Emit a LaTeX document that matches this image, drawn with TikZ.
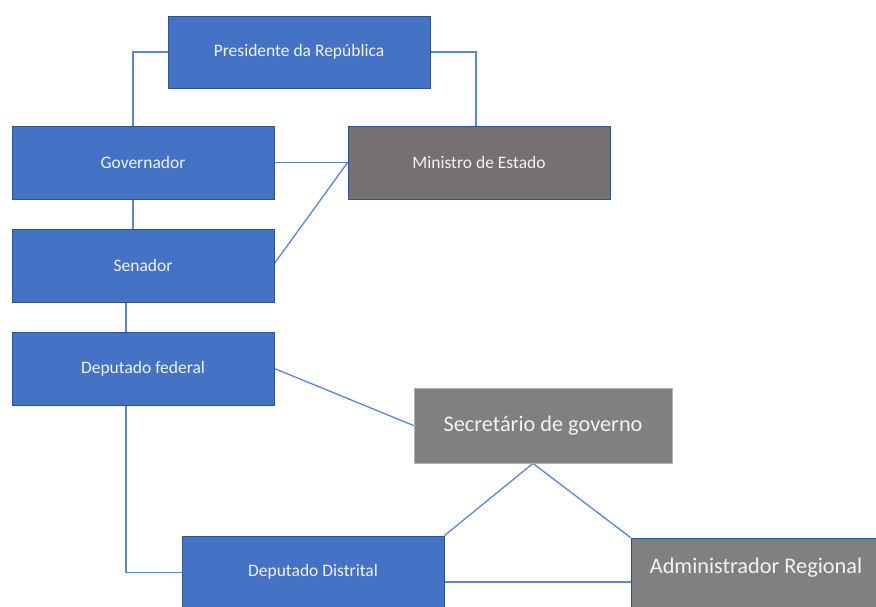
\documentclass[tikz,border=0pt]{standalone}
\usepackage{fontspec}
\setmainfont{Carlito}
\usetikzlibrary{backgrounds}
\definecolor{boxblue}{HTML}{4472C4}
\definecolor{boxblueedge}{HTML}{2F528F}
\definecolor{minfill}{HTML}{767171}
\definecolor{grayfill}{HTML}{808080}
\definecolor{linkblue}{HTML}{5B86D6}
\tikzset{
  bluebox/.style={draw=boxblueedge, line width=0.8pt, fill=boxblue, text=white!95!black,
    minimum width=262pt, minimum height=73pt, inner sep=0pt, font=\fontsize{17.5}{19}\selectfont},
  minbox/.style={bluebox, fill=minfill, draw=boxblueedge},
  graybox/.style={draw=gray!60, line width=0.8pt, fill=grayfill, text=white!95!black,
    minimum width=258pt, minimum height=75pt, inner sep=0pt, font=\fontsize{22.3}{24}\selectfont},
  link/.style={draw=linkblue, line width=1.3pt}
}
\begin{document}
\begin{tikzpicture}[x=1pt,y=-1pt]
\useasboundingbox (0,0) rectangle (876,606);
\clip (0,0) rectangle (876,606);
\node[bluebox, minimum width=262pt, minimum height=72pt] (pres) at (299,52) {Presidente da República};
\node[bluebox] (gov) at (143,162.5) {Governador};
\node[minbox] (min) at (479,162.5) {Ministro de Estado};
\node[bluebox] (sen) at (143,265.5) {Senador};
\node[bluebox] (depf) at (143,368.5) {Deputado federal};
\node[graybox] (sec) at (543,425.5) {Secretário de governo};
\node[bluebox] (depd) at (313,572.5) {};
\node at (313,572) [text=white!95!black, font=\fontsize{17.5}{19}\selectfont] (depdlabel) {Deputado Distrital};
\node[graybox, draw=boxblueedge, minimum width=262pt, minimum height=73pt] (adm) at (762,574.5) {};
\node at (756,568) [text=white!95!black, font=\fontsize{22.3}{24}\selectfont] (admlabel) {Administrador Regional};
\begin{scope}[on background layer]
\draw[link] (pres.west) -| ([xshift=-10pt]gov.north);
\draw[link] (pres.east) -| ([xshift=-3pt]min.north);
\draw[link] (gov.east) -- (min.west);
\draw[link] ([yshift=2pt]sen.east) -- (min.west);
\draw[link] ([xshift=-10pt]gov.south) -- ([xshift=-10pt]sen.north);
\draw[link] ([xshift=-17pt]sen.south) -- ([xshift=-17pt]depf.north);
\draw[link] (depf.east) -- (sec.west);
\draw[link] ([xshift=-17pt]depf.south) |- (depd.west);
\draw[link] ([xshift=-10pt]sec.south) -- (depd.north east);
\draw[link] ([xshift=-10pt]sec.south) -- (adm.north west);
\draw[link] ([yshift=-9.5pt]depd.east) -- ([yshift=-7.5pt]adm.west);
\end{scope}
\end{tikzpicture}
\end{document}
